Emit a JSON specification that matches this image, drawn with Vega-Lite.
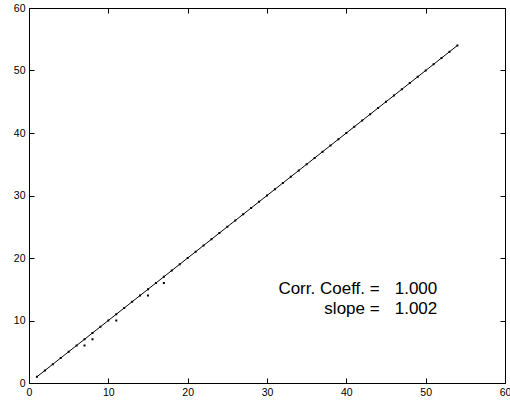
{
  "$schema": "https://vega.github.io/schema/vega-lite/v6.json",
  "width": 476,
  "height": 375,
  "autosize": "none",
  "padding": {"left": 29, "top": 8, "right": 5, "bottom": 19},
  "config": {
    "view": {"stroke": "black", "strokeWidth": 1},
    "font": "Liberation Sans",
    "axis": {
      "domain": false,
      "grid": false,
      "ticks": true,
      "tickColor": "black",
      "tickSize": -5,
      "tickWidth": 1,
      "labelColor": "black",
      "labelFont": "Liberation Sans",
      "labelFontSize": 10.5,
      "labelPadding": 9,
      "labelFlush": false,
      "labelOverlap": false,
      "title": null
    }
  },
  "datasets": {
    "pts": [
      {"x": 1, "y": 1}, {"x": 2, "y": 2}, {"x": 3, "y": 3}, {"x": 4, "y": 4}, {"x": 5, "y": 5},
      {"x": 6, "y": 6}, {"x": 7, "y": 7}, {"x": 7, "y": 6}, {"x": 8, "y": 8}, {"x": 8, "y": 7},
      {"x": 9, "y": 9}, {"x": 10, "y": 10}, {"x": 11, "y": 11}, {"x": 11, "y": 10}, {"x": 12, "y": 12},
      {"x": 13, "y": 13}, {"x": 14, "y": 14}, {"x": 15, "y": 15}, {"x": 15, "y": 14}, {"x": 16, "y": 16},
      {"x": 17, "y": 17}, {"x": 17, "y": 16}, {"x": 18, "y": 18}, {"x": 19, "y": 19}, {"x": 20, "y": 20},
      {"x": 21, "y": 21}, {"x": 22, "y": 22}, {"x": 23, "y": 23}, {"x": 24, "y": 24}, {"x": 25, "y": 25},
      {"x": 26, "y": 26}, {"x": 27, "y": 27}, {"x": 28, "y": 28}, {"x": 29, "y": 29}, {"x": 30, "y": 30},
      {"x": 31, "y": 31}, {"x": 32, "y": 32}, {"x": 33, "y": 33}, {"x": 34, "y": 34}, {"x": 35, "y": 35},
      {"x": 36, "y": 36}, {"x": 37, "y": 37}, {"x": 38, "y": 38}, {"x": 39, "y": 39}, {"x": 40, "y": 40},
      {"x": 41, "y": 41}, {"x": 42, "y": 42}, {"x": 43, "y": 43}, {"x": 44, "y": 44}, {"x": 45, "y": 45},
      {"x": 46, "y": 46}, {"x": 47, "y": 47}, {"x": 48, "y": 48}, {"x": 49, "y": 49}, {"x": 50, "y": 50},
      {"x": 51, "y": 51}, {"x": 52, "y": 52}, {"x": 53, "y": 53}, {"x": 54, "y": 54}
    ],
    "fit": [
      {"x": 1, "y": 1},
      {"x": 54, "y": 54}
    ],
    "notes": [
      {"tx": 44.2, "ty": 14.3, "label": "Corr. Coeff. =", "side": "right"},
      {"tx": 44.2, "ty": 11.0, "label": "slope =", "side": "right"},
      {"tx": 46.1, "ty": 14.3, "label": "1.000", "side": "left"},
      {"tx": 46.1, "ty": 11.0, "label": "1.002", "side": "left"}
    ]
  },
  "layer": [
    {
      "data": {"name": "fit"},
      "mark": {"type": "line", "color": "black", "strokeWidth": 1},
      "encoding": {
        "x": {"field": "x", "type": "quantitative", "scale": {"domain": [0, 60], "nice": false}, "axis": null},
        "y": {"field": "y", "type": "quantitative", "scale": {"domain": [0, 60], "nice": false}, "axis": null}
      }
    },
    {
      "data": {"name": "pts"},
      "mark": {"type": "square", "color": "black", "size": 4, "opacity": 1},
      "encoding": {
        "x": {"field": "x", "type": "quantitative", "axis": {"orient": "bottom", "values": [0, 10, 20, 30, 40, 50, 60]}},
        "y": {"field": "y", "type": "quantitative", "axis": {"orient": "left", "values": [0, 10, 20, 30, 40, 50, 60]}}
      }
    },
    {
      "data": {"name": "pts"},
      "mark": {"type": "point", "opacity": 0},
      "encoding": {
        "x": {"field": "x", "type": "quantitative", "axis": {"orient": "top", "values": [0, 10, 20, 30, 40, 50, 60], "labels": false}},
        "y": {"field": "y", "type": "quantitative", "axis": {"orient": "right", "values": [0, 10, 20, 30, 40, 50, 60], "labels": false}}
      }
    },
    {
      "data": {"name": "notes"},
      "transform": [{"filter": "datum.side === 'right'"}],
      "mark": {"type": "text", "align": "right", "baseline": "alphabetic", "fontSize": 17, "font": "Liberation Sans", "color": "black"},
      "encoding": {
        "x": {"field": "tx", "type": "quantitative", "axis": null},
        "y": {"field": "ty", "type": "quantitative", "axis": null},
        "text": {"field": "label"}
      }
    },
    {
      "data": {"name": "notes"},
      "transform": [{"filter": "datum.side === 'left'"}],
      "mark": {"type": "text", "align": "left", "baseline": "alphabetic", "fontSize": 17, "font": "Liberation Sans", "color": "black"},
      "encoding": {
        "x": {"field": "tx", "type": "quantitative", "axis": null},
        "y": {"field": "ty", "type": "quantitative", "axis": null},
        "text": {"field": "label"}
      }
    }
  ],
  "resolve": {"axis": {"x": "independent", "y": "independent"}}
}
